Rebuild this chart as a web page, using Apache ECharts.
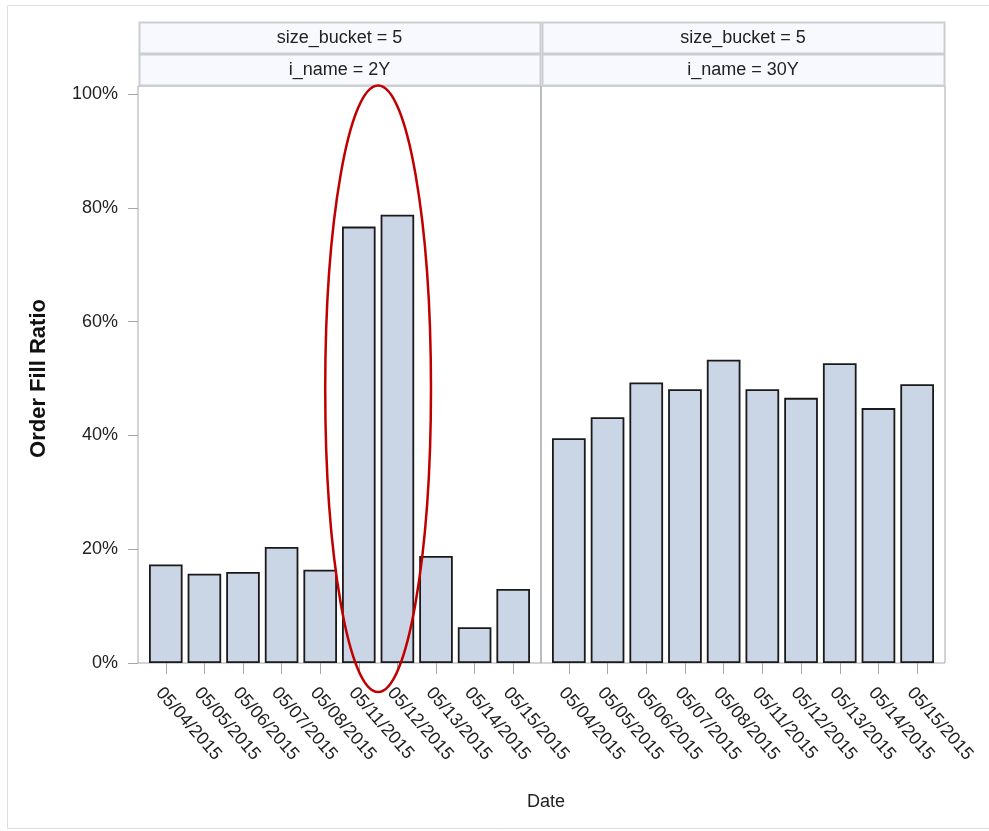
<!DOCTYPE html>
<html>
<head>
<meta charset="utf-8">
<title>Order Fill Ratio by Date</title>
<script src="https://cdn.jsdelivr.net/npm/echarts@6/dist/echarts.min.js"></script>
<style>
  html, body { margin: 0; padding: 0; background: #ffffff; }
  #chart { width: 989px; height: 831px; }
</style>
</head>
<body>
<div id="chart"></div>
<script>
// Trade dates shown on both panels
const dates = ['05/04/2015', '05/05/2015', '05/06/2015', '05/07/2015', '05/08/2015',
               '05/11/2015', '05/12/2015', '05/13/2015', '05/14/2015', '05/15/2015'];

// Order fill ratio (%) per date, one array per instrument
const fill2Y  = [17.3, 15.7, 16.0, 20.4, 16.4, 76.7, 78.8, 18.8, 6.3, 13.0];
const fill30Y = [39.5, 43.2, 49.3, 48.1, 53.3, 48.1, 46.6, 52.7, 44.8, 49.0];

// Panel header labels (two header rows per panel)
const headerRow1 = ['size_bucket = 5', 'size_bucket = 5'];
const headerRow2 = ['i_name = 2Y', 'i_name = 30Y'];

// Y axis ticks (%)
const yTicks = [0, 20, 40, 60, 80, 100];

// Highlighted range on the 2Y panel (category indices) and its vertical extent (%)
const highlightFrom = 5, highlightTo = 6;
const highlightCenterPct = 48.2, highlightHalfSpanPct = 53.3, highlightHalfBands = 1.37;

// ---- layout ----
const FONT = '"Liberation Sans", Arial, Helvetica, sans-serif';
const PLOT_TOP = 86, PLOT_BOTTOM = 663, VALUE_TOP = 94;
const panels = [{ left: 138, right: 541 }, { left: 541, right: 945 }];
const PAD = 8.5;                       // inner gap between frame and first/last band
const HEADER_ROWS = [[22, 54], [54, 86]];

const AXIS_GREY = '#a4a7ab';
const BAR_FILL = '#cad5e5';

const grids = [], xAxes = [], yAxes = [], series = [];

// Frame grids (outline of each panel)
panels.forEach((p, i) => {
  grids.push({
    left: p.left, top: PLOT_TOP, width: p.right - p.left, height: PLOT_BOTTOM - PLOT_TOP,
    show: true, borderColor: AXIS_GREY, borderWidth: 1, backgroundColor: 'transparent'
  });
  xAxes.push({ gridIndex: i, type: 'value', show: false });
  yAxes.push({ gridIndex: i, type: 'value', show: false });
});

// Data grids
const panelData = [fill2Y, fill30Y];
panels.forEach((p, i) => {
  const gi = panels.length + i;
  grids.push({
    left: p.left + PAD, top: VALUE_TOP, width: p.right - p.left - 2 * PAD,
    height: PLOT_BOTTOM - VALUE_TOP
  });
  xAxes.push({
    gridIndex: gi, type: 'category', data: dates,
    axisLine: { show: false },
    axisTick: { show: true, alignWithLabel: true, length: 11, lineStyle: { color: AXIS_GREY } },
    axisLabel: {
      interval: 0, rotate: -49, margin: 21, verticalAlign: 'top',
      fontFamily: FONT, fontSize: 18, color: '#222'
    }
  });
  yAxes.push({
    gridIndex: gi, type: 'value', min: 0, max: 100, interval: 20,
    show: i === 0, offset: PAD,
    splitLine: { show: false },
    axisLine: { show: false },
    axisTick: { show: true, length: 10, lineStyle: { color: AXIS_GREY } },
    axisLabel: {
      margin: 20, fontFamily: FONT, fontSize: 18, color: '#222',
      formatter: v => yTicks.includes(v) ? v + '%' : ''
    },
    name: i === 0 ? 'Order Fill Ratio' : '',
    nameLocation: 'middle', nameRotate: 90, nameGap: 88,
    nameTextStyle: { fontFamily: FONT, fontSize: 22, fontWeight: 'bold', color: '#111' }
  });
  series.push({
    type: 'bar', xAxisIndex: gi, yAxisIndex: gi,
    data: panelData[i],
    barCategoryGap: '13%',
    itemStyle: { color: BAR_FILL, borderColor: '#1a1a1a', borderWidth: 1.8 },
    emphasis: { disabled: true },
    animation: false
  });
});

// Panel header cells
const headerGraphics = [];
panels.forEach((p, i) => {
  [headerRow1, headerRow2].forEach((row, r) => {
    const [y0, y1] = HEADER_ROWS[r];
    headerGraphics.push({
      type: 'rect', z: 10,
      shape: { x: p.left + 1.5, y: y0 + 0.5, width: p.right - p.left - 2, height: y1 - y0 - 1 },
      style: { fill: '#f8f9fe', stroke: '#cbced1', lineWidth: 2 }
    });
    headerGraphics.push({
      type: 'text', z: 11,
      x: (p.left + p.right) / 2, y: (y0 + y1) / 2,
      style: {
        text: row[i], fontFamily: FONT, fontSize: 18, fill: '#222',
        textAlign: 'center', textVerticalAlign: 'middle'
      }
    });
  });
});

// Outer page frame
headerGraphics.push({
  type: 'rect', z: 0,
  shape: { x: 7.5, y: 5.5, width: 990, height: 823 },
  style: { fill: 'none', stroke: '#dedede', lineWidth: 1 }
});

const chart = echarts.init(document.getElementById('chart'), null, { renderer: 'canvas' });
chart.setOption({
  backgroundColor: '#ffffff',
  animation: false,
  title: {
    text: 'Date', left: 522, top: 788,
    textStyle: { fontFamily: FONT, fontSize: 18, fontWeight: 'normal', color: '#222' }
  },
  grid: grids,
  xAxis: xAxes,
  yAxis: yAxes,
  series: series,
  graphic: headerGraphics
});

// Red ellipse marking the highlighted dates on the 2Y panel
const finder = { xAxisIndex: 2, yAxisIndex: 2 };
const pA = chart.convertToPixel(finder, [highlightFrom, highlightCenterPct]);
const pB = chart.convertToPixel(finder, [highlightTo, highlightCenterPct]);
const pTop = chart.convertToPixel(finder, [highlightFrom, highlightCenterPct + highlightHalfSpanPct]);
const band = pB[0] - pA[0];
chart.setOption({
  graphic: headerGraphics.concat([{
    type: 'ellipse', z: 100, silent: true,
    shape: {
      cx: (pA[0] + pB[0]) / 2, cy: pA[1],
      rx: band * highlightHalfBands, ry: pA[1] - pTop[1]
    },
    style: { fill: 'none', stroke: '#c00000', lineWidth: 2.5 }
  }])
});
</script>
</body>
</html>
